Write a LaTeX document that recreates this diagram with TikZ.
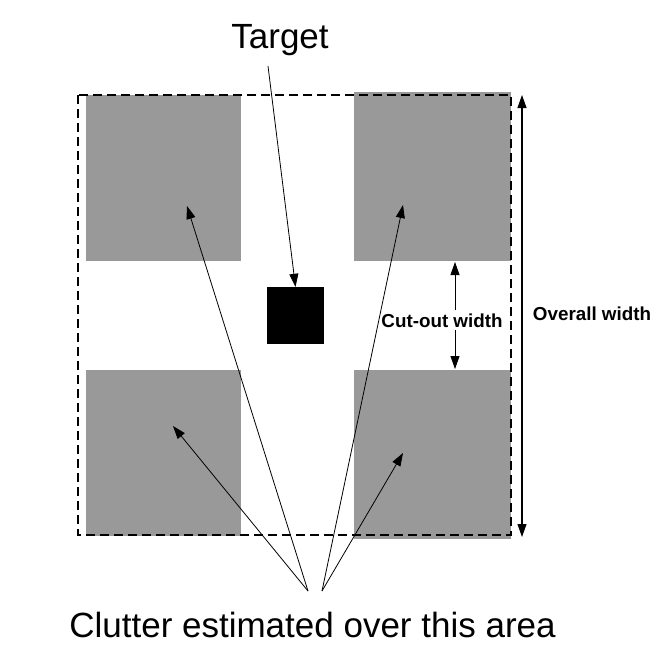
\documentclass[tikz,border=0pt]{standalone}
\usepackage{fontspec}
\setmainfont{Liberation Sans}
\usetikzlibrary{arrows.meta}
\definecolor{boxgray}{HTML}{999999}
\tikzset{
  graybox/.style={fill=boxgray, draw=none, inner sep=0pt, outer sep=0pt},
  pointer/.style={line width=0.8pt, -{Triangle[length=13pt,width=9pt]}},
  dimarrow/.style={line width=1.1pt, {Triangle[length=13pt,width=9pt]}-{Triangle[length=13pt,width=9pt]}},
  halfarrow/.style={line width=0.8pt, -{Triangle[length=13pt,width=9pt]}},
  bigtext/.style={font=\fontsize{35}{40}\selectfont, anchor=base, inner sep=0pt},
  labeltext/.style={font=\fontsize{18.8}{22}\selectfont\bfseries, anchor=base, inner sep=0pt}
}
\begin{document}
\begin{tikzpicture}[x=1pt,y=-1pt]
\useasboundingbox (0,0) rectangle (672,656);
% gray squares
\node[graybox, minimum width=155pt, minimum height=166pt] (tl) at (163.5,178) {};
\node[graybox, minimum width=157pt, minimum height=169pt] (tr) at (432.5,176.5) {};
\node[graybox, minimum width=155pt, minimum height=166pt] (bl) at (163.5,453) {};
\node[graybox, minimum width=157pt, minimum height=169pt] (br) at (432.5,454.5) {};
% dashed area
\draw[dashed, line width=1.2pt, dash pattern=on 9pt off 5pt] (78,95) rectangle (511,535);
% target
\node[fill=black, inner sep=0pt, minimum size=57pt] (target) at (295.5,315.5) {};
\node[bigtext] (tlabel) at (280,48) {Target};
\coordinate (tsrc) at (268,66);
\draw[pointer] (tsrc) -- (target.north);
% dimension arrows
\coordinate (ovtop) at (522,95);
\coordinate (ovbot) at (522,537);
\draw[dimarrow] (ovtop) -- (ovbot);
\node[labeltext] (ovlabel) at (592,320) {Overall width};
\coordinate (cuttop) at (455,262);
\coordinate (cutbot) at (455,369);
\node[labeltext, inner sep=3pt] (cutlabel) at (442,327) {Cut-out width};
\draw[halfarrow] (cutlabel.north -| cuttop) -- (cuttop);
\draw[halfarrow] (cutlabel.south -| cutbot) -- (cutbot);
% clutter
\node[bigtext] (clabel) at (312.5,637) {Clutter estimated over this area};
\coordinate (srcA) at (308,591);
\coordinate (srcB) at (322,591);
\coordinate (tipTL) at (187,206);
\coordinate (tipBL) at (173,426);
\coordinate (tipTR) at (403,205);
\coordinate (tipBR) at (403,453);
\draw[pointer] (srcA) -- (tipTL);
\draw[pointer] (srcA) -- (tipBL);
\draw[pointer] (srcB) -- (tipTR);
\draw[pointer] (srcB) -- (tipBR);
\end{tikzpicture}
\end{document}
